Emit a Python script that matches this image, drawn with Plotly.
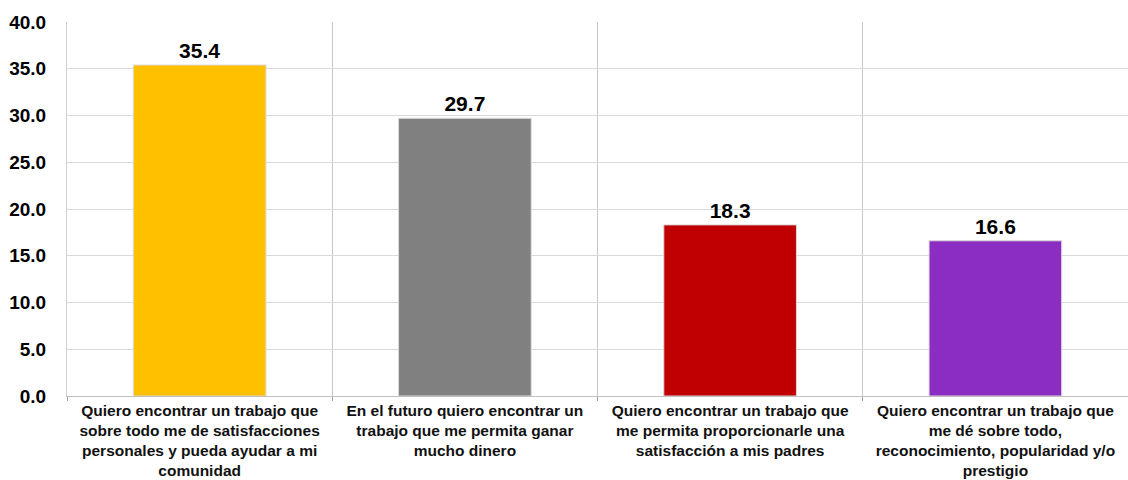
import plotly.graph_objects as go

categories = [
    "Quiero encontrar un trabajo que<br>sobre todo me de satisfacciones<br>personales y pueda ayudar a mi<br>comunidad",
    "En el futuro quiero encontrar un<br>trabajo que me permita ganar<br>mucho dinero",
    "Quiero encontrar un trabajo que<br>me permita proporcionarle una<br>satisfacción a mis padres",
    "Quiero encontrar un trabajo que<br>me dé sobre todo,<br>reconocimiento, popularidad y/o<br>prestigio",
]
values = [35.4, 29.7, 18.3, 16.6]
colors = ["#FFC000", "#808080", "#C00000", "#8B2CC2"]

fig = go.Figure()
fig.add_trace(go.Bar(
    x=list(range(len(values))),
    y=values,
    marker=dict(color=colors, line=dict(color="#d9d9d9", width=1)),
    text=[f"{v:.1f}" for v in values],
    textposition="outside",
    textfont=dict(family="Liberation Sans, Arial, sans-serif", size=21, color="black", weight="bold"),
    cliponaxis=False,
    width=0.5,
))

fig.update_layout(
    width=1128, height=480,
    margin=dict(l=67, r=0, t=22, b=84),
    plot_bgcolor="white", paper_bgcolor="white",
    showlegend=False,
    font=dict(family="Liberation Sans, Arial, sans-serif", color="black"),
)
fig.update_xaxes(
    type="category",
    tickvals=list(range(len(categories))),
    ticktext=[f"<b>{c}</b>" for c in categories],
    tickfont=dict(size=15.5, color="#111111"),
    tickson="boundaries",
    showgrid=True, gridcolor="#c8c8c8", gridwidth=1,
    ticks="outside", ticklen=4, tickcolor="#a0a0a0",
    showline=True, linecolor="#c0c0c0", linewidth=1,
    range=[-0.5, 3.5],
    automargin=False,
)
fig.update_yaxes(
    range=[0, 40], dtick=5, tickformat=".1f",
    showgrid=True, gridcolor="#d9d9d9", gridwidth=1,
    showline=True, linecolor="#d0d0d0", linewidth=1,
    tickfont=dict(size=19, color="black", weight="bold"),
    ticks="", ticklabelstandoff=16,
    zeroline=False,
    automargin=False,
)

fig.write_html(
    "out.html",
    config={"displayModeBar": False},
    post_script="document.body.style.margin='0';document.body.style.overflow='hidden';",
)
